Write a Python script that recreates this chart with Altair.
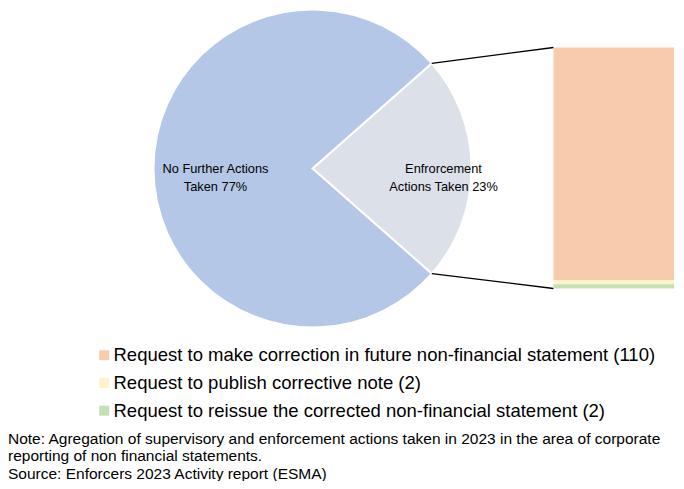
import math
import altair as alt
import pandas as pd

# ---- data ----
pie_labels = ["Enfrorcement\nActions Taken 23%", "No Further Actions\nTaken 77%"]
pie_values = [23, 77]
pie_colors = ["#DCE1E9", "#B4C7E7"]

bar_labels = [
    "Request to make correction in future non-financial statement (110)",
    "Request to publish corrective note (2)",
    "Request to reissue the corrected non-financial statement (2)",
]
bar_values = [110, 2, 2]
bar_colors = ["#F8CBAD", "#FFF2CC", "#C5E0B4"]

note_lines = [
    "Note: Agregation of supervisory and enforcement actions taken in 2023 in the area of corporate",
    "reporting of non financial statements.",
    "Source: Enforcers 2023 Activity report (ESMA)",
]

# ---- layout (pixels in plot area) ----
W, H = 668, 473
CX, CY, R = 304.5, 160.5, 159
BAR_X0, BAR_X1 = 545.5, 666
BAR_Y_TOP, BAR_Y_BOT = 39.5, 280.5
FONT = "Liberation Sans"
label_radius = [131, 97]

PX = alt.Scale(domain=[0, W], range=[0, W], nice=False, zero=False)
PY = alt.Scale(domain=[0, H], range=[0, H], nice=False, zero=False)

total_pie = sum(pie_values)
gray_span = 2 * math.pi * pie_values[0] / total_pie
start = math.pi / 2 - gray_span / 2  # gray slice centred on the right

# slice mid-angles for label placement
mids, acc = [], start
for v in pie_values:
    span = 2 * math.pi * v / total_pie
    mids.append(acc + span / 2)
    acc += span

pie_df = pd.DataFrame({
    "label": pie_labels,
    "value": pie_values,
    "order": [0, 1],
    "lx": [CX + r * math.sin(m) for r, m in zip(label_radius, mids)],
    "ly": [CY - r * math.cos(m) for r, m in zip(label_radius, mids)],
})

pie = alt.Chart(pie_df).mark_arc(stroke="white", strokeWidth=2).encode(
    theta=alt.Theta("value:Q", stack=True,
                    scale=alt.Scale(range=[start, start + 2 * math.pi])),
    order=alt.Order("order:Q"),
    color=alt.Color("label:N", scale=alt.Scale(domain=pie_labels, range=pie_colors), legend=None),
    x=alt.value(CX), y=alt.value(CY), radius=alt.value(R),
)

pie_text = alt.Chart(pie_df).mark_text(
    font=FONT, fontSize=12.8, lineBreak="\n", color="#000000", lineHeight=18,
    baseline="middle",
).encode(
    x=alt.X("lx:Q", axis=None, scale=PX),
    y=alt.Y("ly:Q", axis=None, scale=PY),
    text="label:N",
)

bar_df = pd.DataFrame({
    "label": bar_labels,
    "value": bar_values,
    "order": [0, 1, 2],
})
total_bar = sum(bar_values)

bar = alt.Chart(bar_df).transform_stack(
    stack="value", groupby=[], as_=["v0", "v1"],
    sort=[alt.SortField("order", order="ascending")],
).mark_bar().encode(
    x=alt.value(BAR_X0), x2=alt.value(BAR_X1),
    y=alt.Y("v0:Q", axis=None,
            scale=alt.Scale(domain=[0, total_bar], range=[BAR_Y_TOP, BAR_Y_BOT], nice=False, zero=True)),
    y2="v1:Q",
    color=alt.Color("label:N", scale=alt.Scale(domain=bar_labels, range=bar_colors),
                    sort=bar_labels,
                    legend=alt.Legend(
                        title=None, orient="none", legendX=87, legendY=338,
                        symbolType="square", symbolSize=100, symbolStrokeWidth=0,
                        labelFont=FONT, labelFontSize=18.5, labelColor="#000000",
                        rowPadding=8.7, symbolOffset=0, labelOffset=0, labelLimit=700,
                    )),
)

# connectors from the gray slice edges to the bar's corners
a1, a2 = start, start + gray_span
conn_df = pd.DataFrame({
    "x": [CX + R * math.sin(a1), CX + R * math.sin(a2)],
    "y": [CY - R * math.cos(a1), CY - R * math.cos(a2)],
    "x2": [BAR_X0, BAR_X0],
    "y2": [BAR_Y_TOP, BAR_Y_BOT],
})
conn = alt.Chart(conn_df).mark_rule(color="#000000", strokeWidth=1.3).encode(
    x=alt.X("x:Q", axis=None, scale=PX),
    x2="x2:Q",
    y=alt.Y("y:Q", axis=None, scale=PY),
    y2="y2:Q",
)

note_df = pd.DataFrame({"t": note_lines, "i": [0, 1, 2]})
note = alt.Chart(note_df).mark_text(
    font=FONT, fontSize=15.5, align="left", baseline="middle", color="#000000"
).encode(
    x=alt.value(0),
    y=alt.Y("i:Q", axis=None, scale=alt.Scale(domain=[0, 2], range=[431, 465.5], nice=False, zero=False)),
    text="t:N",
)

chart = alt.layer(pie, pie_text, conn, bar, note).resolve_scale(
    x="independent", y="independent", color="independent"
).properties(
    width=W, height=H, padding=0, autosize=alt.AutoSizeParams(type="none")
).configure_view(stroke=None)

chart.save("out.html", embed_options={"renderer": "svg", "actions": False})
